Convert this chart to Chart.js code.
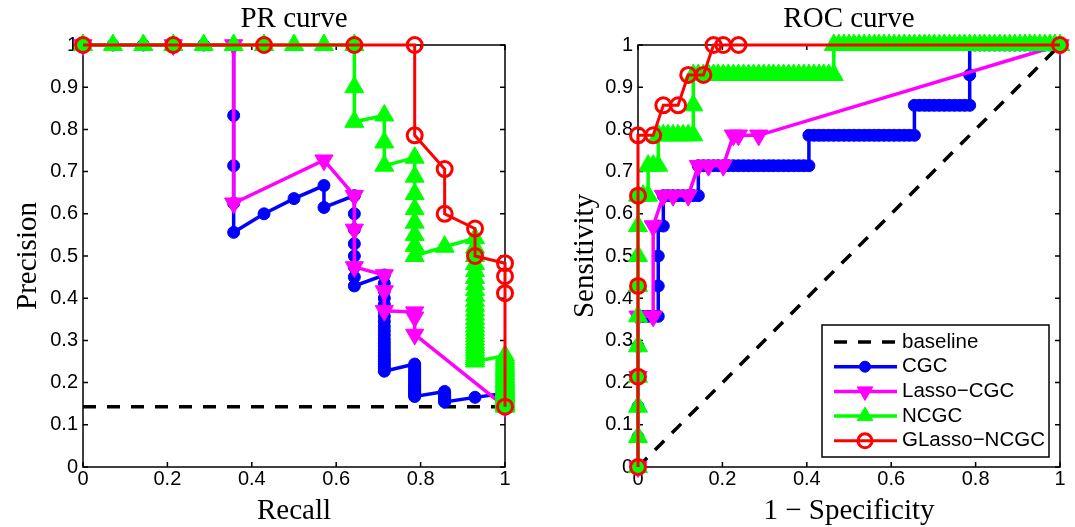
<!DOCTYPE html>
<html>
<head>
<meta charset="utf-8">
<script src="https://cdn.jsdelivr.net/npm/chart.js@4.4.1/dist/chart.umd.min.js"></script>
<style>
  html, body { margin: 0; padding: 0; background: #fff; }
  #wrap { position: relative; width: 1075px; height: 527px; }
  #pr { position: absolute; left: 0; top: 0; }
  #roc { position: absolute; left: 537px; top: 0; }
</style>
</head>
<body>
<div id="wrap">
  <canvas id="pr" width="537" height="527"></canvas>
  <canvas id="roc" width="538" height="527"></canvas>
</div>
<script>
// ---- ticks ----
const xTicks = [0, 0.2, 0.4, 0.6, 0.8, 1];
const xTickLabels = ["0", "0.2", "0.4", "0.6", "0.8", "1"];
const yTicks = [0, 0.1, 0.2, 0.3, 0.4, 0.5, 0.6, 0.7, 0.8, 0.9, 1];
const yTickLabels = ["0", "0.1", "0.2", "0.3", "0.4", "0.5", "0.6", "0.7", "0.8", "0.9", "1"];

const seriesNames = ["baseline", "CGC", "Lasso\u2212CGC", "NCGC", "GLasso\u2212NCGC"];

// ---- PR curve (x = recall, y = precision) ----
const prBaseX = [0, 1];
const prBaseY = [0.143, 0.143];

const prCgcX = [
  0, 0.071, 0.143, 0.214, 0.286, 0.357,
  0.357, 0.357, 0.357, 0.357,
  0.429, 0.5, 0.571, 0.571,
  0.643, 0.643, 0.643, 0.643, 0.643, 0.643, 0.643, 0.643,
  0.714, 0.714, 0.714, 0.714, 0.714, 0.714, 0.714, 0.714, 0.714, 0.714, 0.714, 0.714,
  0.714, 0.714, 0.714, 0.714, 0.714, 0.714, 0.714, 0.714, 0.714, 0.714, 0.714,
  0.786, 0.786, 0.786, 0.786, 0.786, 0.786, 0.786, 0.786, 0.786, 0.786, 0.786,
  0.786, 0.786, 0.786, 0.786, 0.786, 0.786, 0.786, 0.786, 0.786, 0.786, 0.786,
  0.857, 0.857, 0.857, 0.857, 0.857, 0.857, 0.857, 0.857, 0.857, 0.857, 0.857, 0.857,
  0.929,
  1, 1, 1, 1, 1, 1, 1, 1, 1, 1,
  1, 1, 1, 1, 1, 1, 1, 1, 1
];
const prCgcY = [
  1, 1, 1, 1, 1, 1,
  0.833, 0.714, 0.625, 0.556,
  0.6, 0.636, 0.667, 0.615,
  0.643, 0.6, 0.563, 0.529, 0.5, 0.474, 0.45, 0.429,
  0.455, 0.435, 0.417, 0.4, 0.385, 0.37, 0.357, 0.345, 0.333, 0.323, 0.313, 0.303,
  0.294, 0.286, 0.278, 0.27, 0.263, 0.256, 0.25, 0.244, 0.238, 0.233, 0.227,
  0.244, 0.239, 0.234, 0.229, 0.224, 0.22, 0.216, 0.212, 0.208, 0.204, 0.2,
  0.196, 0.193, 0.19, 0.186, 0.183, 0.18, 0.177, 0.175, 0.172, 0.169, 0.167,
  0.179, 0.176, 0.174, 0.171, 0.169, 0.167, 0.164, 0.162, 0.16, 0.158, 0.156, 0.154,
  0.165,
  0.175, 0.173, 0.171, 0.169, 0.167, 0.165, 0.163, 0.161, 0.159, 0.157,
  0.156, 0.154, 0.152, 0.151, 0.149, 0.147, 0.146, 0.144, 0.143
];

const prLassoX = [0, 0.214, 0.357, 0.357, 0.571, 0.643, 0.643, 0.643, 0.714, 0.714, 0.714, 0.786, 0.786, 0.786, 1];
const prLassoY = [1, 1, 1, 0.625, 0.727, 0.643, 0.563, 0.474, 0.455, 0.417, 0.37, 0.367, 0.355, 0.314, 0.143];

const prNcgcX = [
  0, 0.071, 0.143, 0.214, 0.286, 0.357, 0.429, 0.5, 0.571, 0.643,
  0.643, 0.643,
  0.714, 0.714, 0.714,
  0.786, 0.786, 0.786, 0.786, 0.786, 0.786, 0.786, 0.786,
  0.857,
  0.929, 0.929, 0.929, 0.929, 0.929, 0.929, 0.929, 0.929, 0.929, 0.929,
  0.929, 0.929, 0.929, 0.929, 0.929, 0.929, 0.929, 0.929, 0.929, 0.929,
  0.929, 0.929, 0.929, 0.929, 0.929, 0.929, 0.929, 0.929, 0.929,
  1, 1, 1, 1, 1, 1, 1, 1, 1, 1,
  1, 1, 1, 1, 1, 1, 1, 1, 1, 1,
  1, 1, 1, 1, 1, 1, 1, 1, 1, 1,
  1, 1, 1, 1, 1, 1, 1, 1, 1, 1,
  1, 1, 1, 1, 1, 1
];
const prNcgcY = [
  1, 1, 1, 1, 1, 1, 1, 1, 1, 1,
  0.9, 0.818,
  0.833, 0.769, 0.714,
  0.733, 0.688, 0.647, 0.611, 0.579, 0.55, 0.524, 0.5,
  0.522,
  0.542, 0.52, 0.5, 0.481, 0.464, 0.448, 0.433, 0.419, 0.406, 0.394,
  0.382, 0.371, 0.361, 0.351, 0.342, 0.333, 0.325, 0.317, 0.31, 0.302,
  0.295, 0.289, 0.283, 0.277, 0.271, 0.265, 0.26, 0.255, 0.25,
  0.264, 0.259, 0.255, 0.25, 0.246, 0.241, 0.237, 0.233, 0.23, 0.226,
  0.222, 0.219, 0.215, 0.212, 0.209, 0.206, 0.203, 0.2, 0.197, 0.194,
  0.192, 0.189, 0.187, 0.184, 0.182, 0.179, 0.177, 0.175, 0.173, 0.171,
  0.169, 0.167, 0.165, 0.163, 0.161, 0.159, 0.157, 0.156, 0.154, 0.152,
  0.151, 0.149, 0.147, 0.146, 0.144, 0.143
];

const prGlassoX = [0, 0.214, 0.429, 0.643, 0.786, 0.786, 0.857, 0.857, 0.929, 0.929, 1, 1, 1, 1];
const prGlassoY = [1, 1, 1, 1, 1, 0.786, 0.706, 0.6, 0.565, 0.5, 0.483, 0.452, 0.412, 0.143];

// ---- ROC curve (x = 1 - specificity, y = sensitivity) ----
const rocBaseX = [0, 1];
const rocBaseY = [0, 1];

const rocCgcX = [
  0, 0, 0, 0, 0, 0,
  0.012, 0.024, 0.036, 0.048,
  0.048, 0.048, 0.048,
  0.06, 0.06,
  0.071, 0.083, 0.095, 0.107, 0.119, 0.131, 0.143,
  0.143,
  0.155, 0.167, 0.179, 0.19, 0.202, 0.214, 0.226, 0.238, 0.25, 0.262, 0.274,
  0.286, 0.298, 0.31, 0.321, 0.333, 0.345, 0.357, 0.369, 0.381, 0.393, 0.405,
  0.405,
  0.417, 0.429, 0.44, 0.452, 0.464, 0.476, 0.488, 0.5, 0.512, 0.524, 0.536,
  0.548, 0.56, 0.571, 0.583, 0.595, 0.607, 0.619, 0.631, 0.643, 0.655,
  0.655,
  0.667, 0.679, 0.69, 0.702, 0.714, 0.726, 0.738, 0.75, 0.762, 0.774, 0.786,
  0.786, 0.786,
  0.798, 0.81, 0.821, 0.833, 0.845, 0.857, 0.869, 0.881, 0.893,
  0.905, 0.917, 0.929, 0.94, 0.952, 0.964, 0.976, 0.988, 1
];
const rocCgcY = [
  0, 0.071, 0.143, 0.214, 0.286, 0.357,
  0.357, 0.357, 0.357, 0.357,
  0.429, 0.5, 0.571,
  0.571, 0.643,
  0.643, 0.643, 0.643, 0.643, 0.643, 0.643, 0.643,
  0.714,
  0.714, 0.714, 0.714, 0.714, 0.714, 0.714, 0.714, 0.714, 0.714, 0.714, 0.714,
  0.714, 0.714, 0.714, 0.714, 0.714, 0.714, 0.714, 0.714, 0.714, 0.714, 0.714,
  0.786,
  0.786, 0.786, 0.786, 0.786, 0.786, 0.786, 0.786, 0.786, 0.786, 0.786, 0.786,
  0.786, 0.786, 0.786, 0.786, 0.786, 0.786, 0.786, 0.786, 0.786, 0.786,
  0.857,
  0.857, 0.857, 0.857, 0.857, 0.857, 0.857, 0.857, 0.857, 0.857, 0.857, 0.857,
  0.929, 1,
  1, 1, 1, 1, 1, 1, 1, 1, 1,
  1, 1, 1, 1, 1, 1, 1, 1, 1
];

const rocLassoX = [0, 0, 0, 0.036, 0.036, 0.06, 0.083, 0.119, 0.143, 0.167, 0.202, 0.226, 0.238, 0.286, 1];
const rocLassoY = [0, 0.214, 0.357, 0.357, 0.571, 0.643, 0.643, 0.643, 0.714, 0.714, 0.714, 0.786, 0.786, 0.786, 1];

const rocNcgcX = [
  0, 0, 0, 0, 0, 0, 0, 0, 0, 0,
  0.012, 0.024, 0.024, 0.036, 0.048, 0.048,
  0.06, 0.071, 0.083, 0.095, 0.107, 0.119, 0.131,
  0.131, 0.131,
  0.143, 0.155, 0.167, 0.179, 0.19, 0.202, 0.214, 0.226, 0.238, 0.25,
  0.262, 0.274, 0.286, 0.298, 0.31, 0.321, 0.333, 0.345, 0.357, 0.369,
  0.381, 0.393, 0.405, 0.417, 0.429, 0.44, 0.452, 0.464,
  0.464,
  0.476, 0.488, 0.5, 0.512, 0.524, 0.536, 0.548, 0.56, 0.571, 0.583,
  0.595, 0.607, 0.619, 0.631, 0.643, 0.655, 0.667, 0.679, 0.69, 0.702,
  0.714, 0.726, 0.738, 0.75, 0.762, 0.774, 0.786, 0.798, 0.81, 0.821,
  0.833, 0.845, 0.857, 0.869, 0.881, 0.893, 0.905, 0.917, 0.929, 0.94,
  0.952, 0.964, 0.976, 0.988, 1
];
const rocNcgcY = [
  0, 0.071, 0.143, 0.214, 0.286, 0.357, 0.429, 0.5, 0.571, 0.643,
  0.643, 0.643, 0.714, 0.714, 0.714, 0.786,
  0.786, 0.786, 0.786, 0.786, 0.786, 0.786, 0.786,
  0.857, 0.929,
  0.929, 0.929, 0.929, 0.929, 0.929, 0.929, 0.929, 0.929, 0.929, 0.929,
  0.929, 0.929, 0.929, 0.929, 0.929, 0.929, 0.929, 0.929, 0.929, 0.929,
  0.929, 0.929, 0.929, 0.929, 0.929, 0.929, 0.929, 0.929,
  1,
  1, 1, 1, 1, 1, 1, 1, 1, 1, 1,
  1, 1, 1, 1, 1, 1, 1, 1, 1, 1,
  1, 1, 1, 1, 1, 1, 1, 1, 1, 1,
  1, 1, 1, 1, 1, 1, 1, 1, 1, 1,
  1, 1, 1, 1, 1
];

const rocGlassoX = [0, 0, 0, 0, 0, 0.036, 0.06, 0.095, 0.119, 0.155, 0.179, 0.202, 0.238, 1];
const rocGlassoY = [0, 0.214, 0.429, 0.643, 0.786, 0.786, 0.857, 0.857, 0.929, 0.929, 1, 1, 1, 1];

// ---- styles ----
const SERIF = "'Liberation Serif', 'Times New Roman', serif";
const SANS = "'Liberation Sans', Arial, sans-serif";
const TICK_LEN = 5;

const styles = [
  { borderColor: "#000000", borderWidth: 3.5, borderDash: [13, 11], pointRadius: 0, order: 5 },
  { borderColor: "#0000ff", borderWidth: 3.5, pointStyle: "circle", pointRadius: 6,
    pointBackgroundColor: "#0000ff", pointBorderColor: "#0000ff", pointBorderWidth: 1, order: 4 },
  { borderColor: "#ff00ff", borderWidth: 3.5, pointStyle: "triangle", pointRotation: 180, pointRadius: 10.5,
    pointBackgroundColor: "#ff00ff", pointBorderColor: "#ff00ff", pointBorderWidth: 1, order: 3 },
  { borderColor: "#00ff00", borderWidth: 3.5, pointStyle: "triangle", pointRadius: 11,
    pointBackgroundColor: "#00ff00", pointBorderColor: "#00ff00", pointBorderWidth: 1, order: 2 },
  { borderColor: "#ff0000", borderWidth: 3, pointStyle: "circle", pointRadius: 7.5,
    pointBackgroundColor: "rgba(0,0,0,0)", pointBorderColor: "#ff0000", pointBorderWidth: 3, order: 1 },
];

// legend markers are a bit smaller than the ones on the curves
const legendRadius = [0, 5.5, 9, 9, 7];

function makeDatasets(pairs) {
  return pairs.map(([xs, ys], i) => Object.assign({
    label: seriesNames[i],
    data: xs.map((x, k) => ({ x, y: ys[k] })),
    showLine: true,
    tension: 0,
    clip: false,
    pointHoverRadius: 0,
  }, styles[i]));
}

// box with inward ticks on all four sides, drawn under the data
const framePlugin = {
  id: "frame",
  beforeDatasetsDraw(chart) {
    const { ctx, chartArea: a, scales } = chart;
    ctx.save();
    ctx.strokeStyle = "#000";
    ctx.lineWidth = 1.5;
    ctx.strokeRect(a.left, a.top, a.right - a.left, a.bottom - a.top);
    ctx.beginPath();
    scales.x.ticks.forEach(t => {
      const px = scales.x.getPixelForValue(t.value);
      ctx.moveTo(px, a.bottom); ctx.lineTo(px, a.bottom - TICK_LEN);
      ctx.moveTo(px, a.top); ctx.lineTo(px, a.top + TICK_LEN);
    });
    scales.y.ticks.forEach(t => {
      const py = scales.y.getPixelForValue(t.value);
      ctx.moveTo(a.left, py); ctx.lineTo(a.left + TICK_LEN, py);
      ctx.moveTo(a.right, py); ctx.lineTo(a.right - TICK_LEN, py);
    });
    ctx.stroke();
    ctx.restore();
  }
};

function drawMarker(ctx, style, r, rot, x, y) {
  ctx.beginPath();
  if (style === "circle") {
    ctx.arc(x, y, r, 0, Math.PI * 2);
  } else {
    let ang = rot * Math.PI / 180;
    for (let k = 0; k < 3; k++) {
      const px = x + Math.sin(ang) * r, py = y - Math.cos(ang) * r;
      if (k) ctx.lineTo(px, py); else ctx.moveTo(px, py);
      ang += 2 * Math.PI / 3;
    }
    ctx.closePath();
  }
  ctx.fill();
  ctx.stroke();
}

// legend box inside the ROC axes, lower right
const boxLegend = {
  id: "boxLegend",
  afterDraw(chart) {
    const { ctx, chartArea: a } = chart;
    const w = 227, h = 132;
    const left = a.right - 11 - w, top = a.bottom - 10 - h;
    ctx.save();
    ctx.fillStyle = "#fff";
    ctx.fillRect(left, top, w, h);
    ctx.strokeStyle = "#000";
    ctx.lineWidth = 1.5;
    ctx.strokeRect(left, top, w, h);
    chart.data.datasets.forEach((ds, i) => {
      const y = top + 17 + i * 24.7;
      ctx.setLineDash(ds.borderDash || []);
      ctx.strokeStyle = ds.borderColor;
      ctx.lineWidth = ds.borderWidth;
      ctx.beginPath();
      ctx.moveTo(left + 12, y);
      ctx.lineTo(left + 75, y);
      ctx.stroke();
      ctx.setLineDash([]);
      if (ds.pointRadius > 0) {
        ctx.fillStyle = ds.pointBackgroundColor;
        ctx.strokeStyle = ds.pointBorderColor;
        ctx.lineWidth = ds.pointBorderWidth;
        drawMarker(ctx, ds.pointStyle, legendRadius[i], ds.pointRotation || 0, left + 43, y);
      }
      ctx.fillStyle = "#000";
      ctx.font = "20.5px " + SANS;
      ctx.textBaseline = "middle";
      ctx.textAlign = "left";
      ctx.fillText(ds.label, left + 80, y);
    });
    ctx.restore();
  }
};

function makeOptions(title, xTitle, yTitle, yWidth, yTitlePad, rightPad) {
  const tickFont = { family: SANS, size: 20, lineHeight: 1 };
  const labelFont = { family: SERIF, size: 29, lineHeight: 1.2 };
  return {
    responsive: false,
    animation: false,
    layout: { padding: { left: 0, right: rightPad, top: 0, bottom: 0 } },
    plugins: {
      legend: { display: false },
      tooltip: { enabled: false },
      title: {
        display: true, text: title, fullSize: false, color: "#000",
        font: { family: SERIF, size: 29, weight: "normal", lineHeight: 1.2 },
        padding: { top: 1.5, bottom: 8.7 },
      },
    },
    scales: {
      x: {
        type: "linear", min: 0, max: 1,
        afterBuildTicks: s => { s.ticks = xTicks.map(v => ({ value: v })); },
        afterFit: s => { s.height = 60; },
        grid: { display: false, drawTicks: false },
        border: { display: false },
        ticks: { callback: (v, i) => xTickLabels[i], font: tickFont, color: "#000",
                 padding: 2, maxRotation: 0, autoSkip: false },
        title: { display: true, text: xTitle, color: "#000", font: labelFont, padding: { top: 0, bottom: -2 } },
      },
      y: {
        type: "linear", min: 0, max: 1,
        afterBuildTicks: s => { s.ticks = yTicks.map(v => ({ value: v })); },
        afterFit: s => { s.width = yWidth; },
        grid: { display: false, drawTicks: false },
        border: { display: false },
        ticks: { callback: (v, i) => yTickLabels[i], font: tickFont, color: "#000",
                 padding: 5, autoSkip: false },
        title: { display: true, text: yTitle, color: "#000", font: labelFont, padding: { top: yTitlePad, bottom: 0 } },
      },
    },
  };
}

new Chart(document.getElementById("pr"), {
  type: "scatter",
  data: {
    datasets: makeDatasets([
      [prBaseX, prBaseY], [prCgcX, prCgcY], [prLassoX, prLassoY],
      [prNcgcX, prNcgcY], [prGlassoX, prGlassoY],
    ]),
  },
  options: makeOptions("PR curve", "Recall", "Precision", 83, 10.5, 32),
  plugins: [framePlugin],
});

new Chart(document.getElementById("roc"), {
  type: "scatter",
  data: {
    datasets: makeDatasets([
      [rocBaseX, rocBaseY], [rocCgcX, rocCgcY], [rocLassoX, rocLassoY],
      [rocNcgcX, rocNcgcY], [rocGlassoX, rocGlassoY],
    ]),
  },
  options: makeOptions("ROC curve", "1 \u2212 Specificity", "Sensitivity", 101, 31, 15),
  plugins: [framePlugin, boxLegend],
});
</script>
</body>
</html>
